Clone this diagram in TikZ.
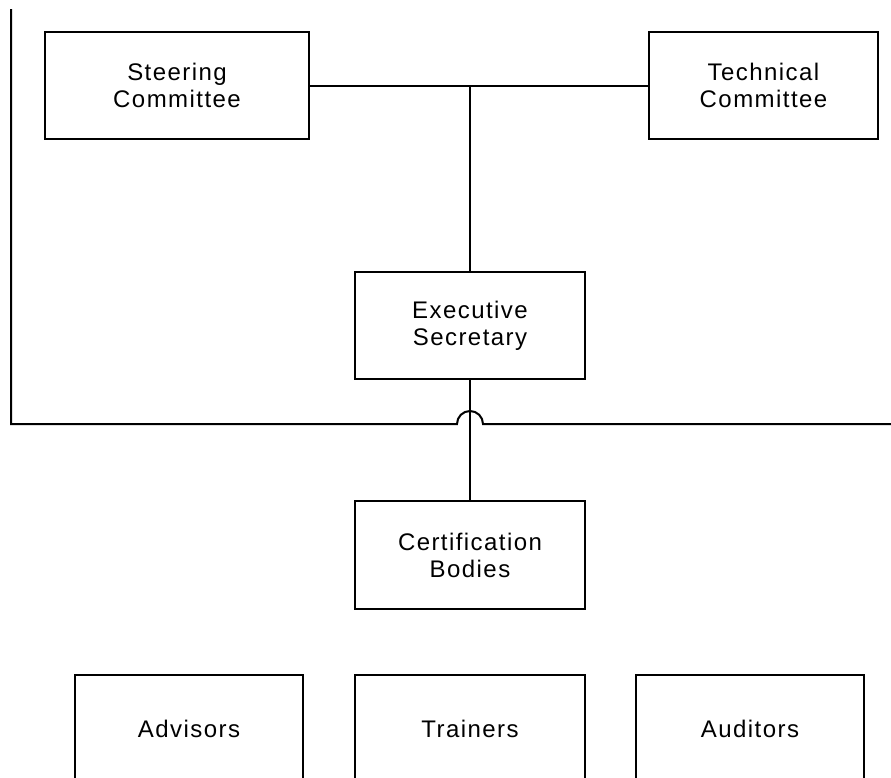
\documentclass[tikz,border=0pt]{standalone}
\usepackage{fontspec}
\setmainfont{Liberation Sans}[LetterSpace=6]
\usetikzlibrary{calc}
\tikzset{
	orgchart/.style={x=1pt,y=-1pt,line width=2pt,
		every node/.style={font=\fontsize{24}{27}\selectfont,align=center}},
	unit/.style={draw,rectangle,minimum width=230pt,minimum height=107pt,inner sep=0pt},
	wide unit/.style={unit,minimum width=264pt}
}

\begin{document}
\begin{tikzpicture}[orgchart]
	\clip (0,0) rectangle (891,777);
	\useasboundingbox (0,0) rectangle (891,777);

	\node[wide unit] (steer) at (177,85.5) {Steering\\Committee};
	\node[unit, minimum width=229pt] (tech) at (763.5,85.5) {Technical\\Committee};
	\node[unit] (exec) at (470,325.5) {Executive\\Secretary};
	\node[unit, minimum height=108pt] (cert) at (470,555) {Certification\\Bodies};
	\node[unit, minimum width=228pt] (adv) at (189,728.5) {Advisors};
	\node[unit] (train) at (470,728.5) {Trainers};
	\node[unit, minimum width=228pt] (aud) at (750,728.5) {Auditors};
	%\node[unit] (other) at (470,900) {};

	\coordinate (bustop) at (11,9);
	\coordinate (busend) at (891,424);
	\coordinate (join) at (exec.north |- steer.east);

	\draw (steer.east) -- (tech.west);
	\draw (join) -- (exec.north);
	\draw (exec.south) -- (cert.north);
	% bus line hops over the secretary link
	\draw (bustop) |- ($(exec.south |- busend)+(-13,0)$)
		arc[start angle=180,end angle=0,radius=13pt] -- (busend);
\end{tikzpicture}
\end{document}
